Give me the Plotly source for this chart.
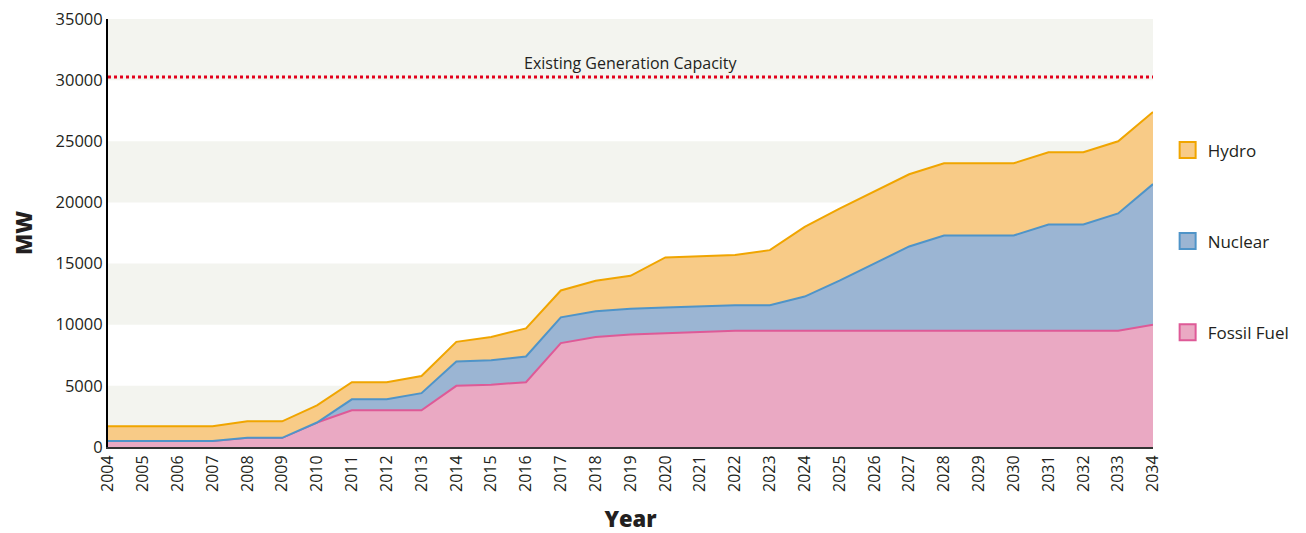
import plotly.graph_objects as go

years = list(range(2004, 2035))
fossil = [500, 500, 500, 500, 750, 750, 2000, 3000, 3000, 3000, 5000, 5100, 5300, 8500, 9000,
          9200, 9300, 9400, 9500, 9500, 9500, 9500, 9500, 9500, 9500, 9500, 9500, 9500, 9500, 9500, 10000]
nuclear = [0, 0, 0, 0, 0, 0, 0, 900, 900, 1400, 2000, 2000, 2100, 2100, 2100,
           2100, 2100, 2100, 2100, 2100, 2800, 4100, 5500, 6900, 7800, 7800, 7800, 8700, 8700, 9600, 11500]
hydro = [1200, 1200, 1200, 1200, 1350, 1350, 1400, 1400, 1400, 1400, 1600, 1900, 2300, 2200, 2500,
         2700, 4100, 4100, 4100, 4500, 5700, 5900, 5900, 5900, 5900, 5900, 5900, 5900, 5900, 5900, 5900]
existing_capacity = 30250
band_ranges = [(0, 5000), (10000, 15000), (20000, 25000), (30000, 35000)]

FONT = "Open Sans"
TXT = "#231f20"

series = [
    ("Fossil Fuel", fossil, "rgba(234,169,195,1)", "#de5a97"),
    ("Nuclear", nuclear, "rgba(155,181,211,1)", "#4f94c8"),
    ("Hydro", hydro, "rgba(248,203,135,1)", "#f0a500"),
]

fig = go.Figure()
for name, vals, fillc, linec in series:
    fig.add_trace(go.Scatter(
        x=years, y=vals, name=name, stackgroup="one", mode="lines",
        line=dict(color=linec, width=2), fillcolor=fillc, showlegend=False,
        hoverinfo="x+y+name",
    ))

# legend entries (square swatches)
for name, vals, fillc, linec in reversed(series):
    fig.add_trace(go.Scatter(
        x=[None], y=[None], name=name, mode="markers", legendgroup=name,
        marker=dict(symbol="square", size=18, color=fillc, line=dict(color=linec, width=2)),
    ))

shapes = []
for lo, hi in band_ranges:
    shapes.append(dict(type="rect", xref="paper", yref="y", x0=0, x1=1, y0=lo, y1=hi,
                       fillcolor="#f3f4ef", line=dict(width=0), layer="below"))
shapes.append(dict(type="line", xref="paper", yref="y", x0=0, x1=1,
                   y0=existing_capacity, y1=existing_capacity,
                   line=dict(color="#e3001b", width=3, dash="dot"), layer="above"))

# the page body adds an 8px offset, so the figure is sized to fit the window
fig.update_layout(
    width=1298, height=525,
    margin=dict(l=100, r=145, t=11, b=86),
    paper_bgcolor="white", plot_bgcolor="white",
    font=dict(family=FONT, size=17, color=TXT),
    shapes=shapes,
    showlegend=True,
    legend=dict(x=1.014, y=0.735, xanchor="left", yanchor="top",
                tracegroupgap=66, font=dict(size=17, color=TXT),
                bgcolor="rgba(0,0,0,0)", itemwidth=30),
    annotations=[dict(x=2019, y=existing_capacity, xref="x", yref="y",
                      text="Existing Generation Capacity", showarrow=False,
                      yanchor="bottom", yshift=1, font=dict(size=16, color=TXT))],
    xaxis=dict(range=[2004, 2034], dtick=1, tick0=2004, tickangle=-90, automargin=False,
               ticklabeloverflow="allow",
               showgrid=False, zeroline=False, showline=True, linecolor="#333333",
               linewidth=2, ticks="", tickfont=dict(size=16),
               title=dict(text="Year", font=dict(size=22, family=FONT, weight=900), standoff=35)),
    yaxis=dict(range=[0, 35000], dtick=5000, tickformat="d", automargin=False,
               ticklabeloverflow="allow",
               showgrid=False, zeroline=False, showline=True, linecolor="#000000",
               linewidth=2, ticks="", tickfont=dict(size=16.5),
               title=dict(text="MW", font=dict(size=22, family=FONT, weight=900), standoff=27)),
)

fig.write_html("out.html")
